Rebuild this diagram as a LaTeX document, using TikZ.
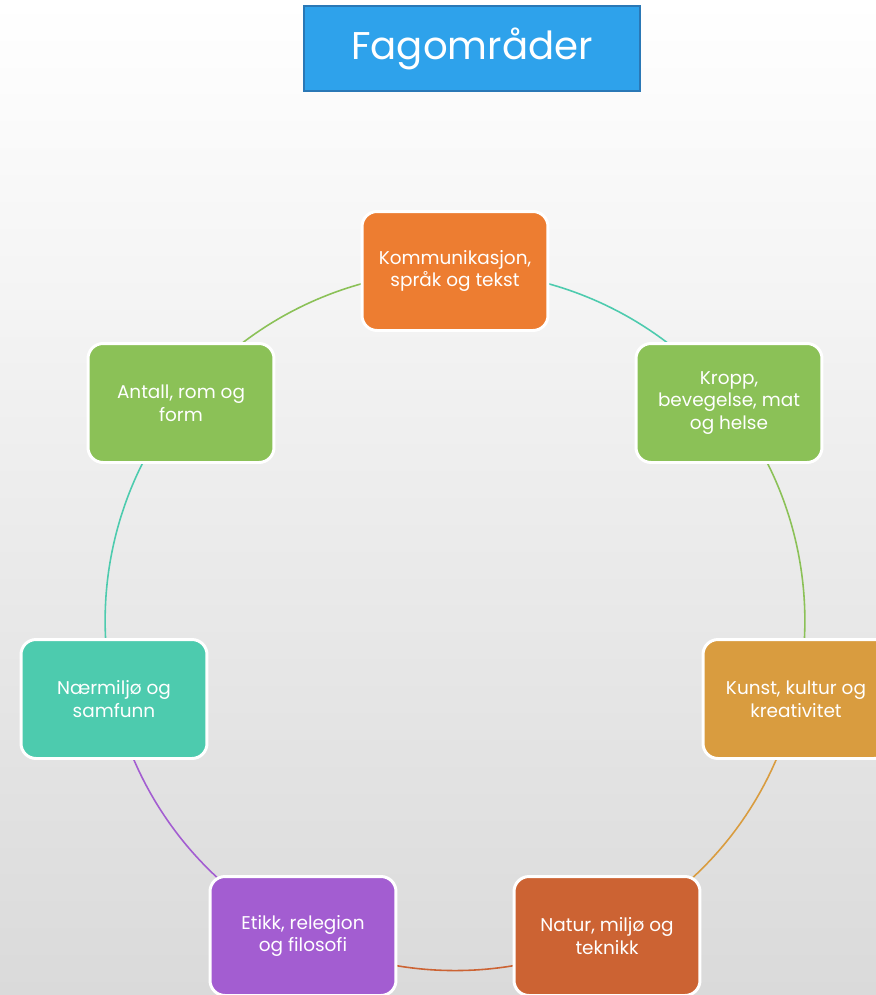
\documentclass[tikz,border=0pt]{standalone}
\usepackage{fontspec}
\setmainfont{Poppins}
\usepackage{xcolor}
\usepackage{tikz}
\usetikzlibrary{backgrounds}

\definecolor{titleblue}{HTML}{2EA2EB}
\definecolor{titleedge}{HTML}{2A78B6}
\definecolor{komorange}{HTML}{ED7D31}
\definecolor{areagreen}{HTML}{8BC157}
\definecolor{areagold}{HTML}{D99C3F}
\definecolor{arearust}{HTML}{CC6333}
\definecolor{areapurple}{HTML}{A35DD1}
\definecolor{areateal}{HTML}{4DCBAE}
\definecolor{bggray}{HTML}{DADADA}

\begin{document}
\begin{tikzpicture}[x=0.02cm, y=-0.02cm,
areabox/.style={draw=white, line width=1.7pt, rounded corners=0.3cm, minimum width=3.72cm, minimum height=2.38cm, text=white, align=center, font=\fontsize{10.5}{13}\selectfont},
titlebox/.style={draw=titleedge, line width=1.2pt, fill=titleblue, minimum width=6.72cm, minimum height=1.7cm, text=white, font=\fontsize{22}{27}\selectfont},
link/.style={line width=0.9pt, bend left=25.7, looseness=0.896}
]
\clip (0,0) rectangle (876,995);

\node[titlebox](title) at (472,48.5) {\raisebox{-2pt}{Fagområder}};

\node[areabox, fill=komorange](kom) at (455,271) {Kommunikasjon,\\språk og tekst};
\node[areabox, fill=areagreen](kropp) at (729,403) {Kropp,\\bevegelse, mat\\og helse};
\node[areabox, fill=areagold](kunst) at (796,699) {Kunst, kultur og\\kreativitet};
\node[areabox, fill=arearust](natur) at (607,936) {Natur, miljø og\\teknikk};
\node[areabox, fill=areapurple](etikk) at (303,936) {Etikk, relegion\\og filosofi};
\node[areabox, fill=areateal](naer) at (114,699) {Nærmiljø og\\samfunn};
\node[areabox, fill=areagreen](antall) at (181,403) {Antall, rom og\\form};

\begin{pgfonlayer}{background}
\shade[top color=white, bottom color=bggray] (0,0) rectangle (876,995);
\draw[link, areateal](kom.center) to (kropp.center);
\draw[link, areagreen](kropp.center) to (kunst.center);
\draw[link, areagold](kunst.center) to (natur.center);
\draw[link, arearust](natur.center) to (etikk.center);
\draw[link, areapurple](etikk.center) to (naer.center);
\draw[link, areateal](naer.center) to (antall.center);
\draw[link, areagreen](antall.center) to (kom.center);
\end{pgfonlayer}

\end{tikzpicture}
\end{document}
